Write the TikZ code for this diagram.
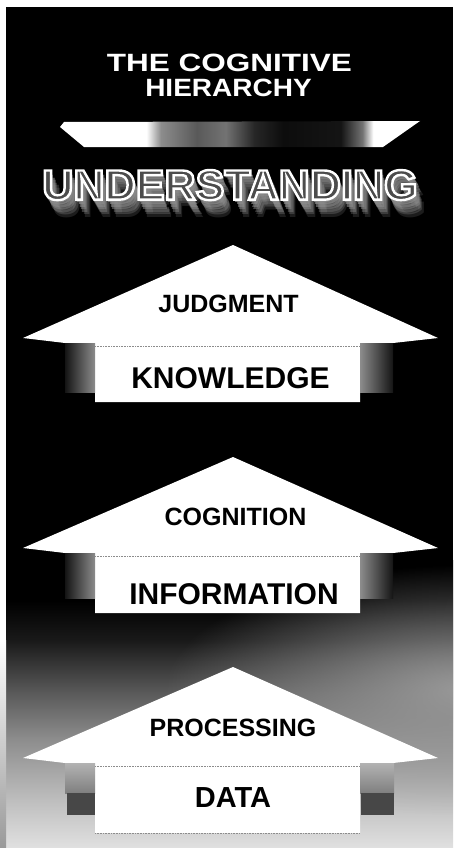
\documentclass[tikz,border=0pt]{standalone}
\usepackage{fontspec}
\setmainfont{Liberation Sans}
\usepackage{graphicx}
\usetikzlibrary{fadings}
\pgfdeclarehorizontalshading{barshade}{100bp}{color(0bp)=(white); color(25bp)=(white); color(37bp)=(white); color(39bp)=(black!45); color(44bp)=(black!65); color(48bp)=(black!55); color(52bp)=(black!85); color(56bp)=(black!95); color(64bp)=(black!92); color(67bp)=(black!55); color(68.5bp)=(white); color(75bp)=(white); color(100bp)=(white)}
\pgfdeclareverticalshading{bgshade}{100bp}{color(0bp)=(black!12); color(25bp)=(black!12); color(33bp)=(black!25); color(44bp)=(black!45); color(52bp)=(black!65); color(61bp)=(black!90); color(68bp)=(black); color(100bp)=(black)}
\tikzfading[name=softcirc, inner color=transparent!0, outer color=transparent!100]
% outlined text: fill in current colour, stroke in given grey level
\newcommand\outlinetext[3]{\special{pdf:literal direct 2 Tr #2 w #1 G}#3\special{pdf:literal direct 0 Tr}}
\tikzset{
  lbl/.style={inner sep=0pt, text depth=0pt, text height=17.9pt, font=\bfseries\fontsize{25}{25}\selectfont},
  biglbl/.style={inner sep=0pt, text depth=0pt, text height=21.6pt, font=\bfseries\fontsize{30}{30}\selectfont},
  ustyle/.style={inner sep=0pt, text depth=0pt, text height=30.4pt, font=\bfseries\fontsize{42.5}{42.5}\selectfont},
  housefill/.style={fill=white},
  lside/.style={left color=black!92, right color=black!45},
  rside/.style={left color=black!45, right color=black!92},
  boxedge/.style={black!45, densely dotted, line width=0.6pt}
}
\newcommand\housearrow[4]{%
  \fill[housefill] (233,#1) -- (438,#2) -- (393,#2+5) -- (360,#2+5) -- (360,#4) -- (95,#4) -- (95,#2+5) -- (65,#2+5) -- (23,#2) -- cycle;
  \draw[boxedge] (95,#2+8) -- (360,#2+8);
}
\begin{document}
\begin{tikzpicture}[x=1pt,y=-1pt]
\useasboundingbox (0,0) rectangle (453,848);
\fill[white] (0,0) rectangle (453,848);
% dark panel with fading bottom
\fill[black] (6,7) rectangle (453,848);
\shade[shading=bgshade] (6,560) rectangle (453,848);
\begin{scope}
  \clip (6,7) rectangle (453,848);
  \fill[black!40, path fading=softcirc] (465,690) ellipse [x radius=300pt, y radius=125pt];
\end{scope}
\shade[top color=white, bottom color=black!40] (0,640) rectangle (6,848);

% title
\node[lbl, text=white] (t1) at (229.5,63) {\scalebox{1.26}[1]{THE COGNITIVE}};
\node[lbl, text=white] (t2) at (228.5,88) {\scalebox{1.12}[1]{HIERARCHY}};

% bar
\shade[shading=barshade] (64,122) -- (420,121) -- (383,147) -- (84,147) -- (60,127) -- cycle;

% UNDERSTANDING with streaky shadow
\foreach \i in {7,6,...,1}
  \node[ustyle, text=black!45, opacity={0.9-0.1*\i}] (ush\i) at ({230+1.3*\i},{184.5+2.5*\i}) {\scalebox{1.015}[1]{UNDERSTANDING}};
\node[ustyle, text=black!70] (und) at (230,184.5) {\scalebox{1.015}[1]{\outlinetext{1}{2.4}{UNDERSTANDING}}};

% arrow 1
\housearrow{245}{338}{392}{402}
\shade[lside] (65,343) rectangle (95,392);
\shade[rside] (360,343) rectangle (393,392);
\node[lbl] (judg) at (228.5,304) {JUDGMENT};
\node[biglbl] (know) at (230.5,377.5) {KNOWLEDGE};

% arrow 2
\housearrow{457}{548}{598}{613}
\shade[lside] (65,553) rectangle (95,598);
\shade[rside] (360,553) rectangle (393,598);
\node[lbl] (cogn) at (235.5,517) {COGNITION};
\node[biglbl] (info) at (234,594) {INFORMATION};

% arrow 3
\housearrow{667}{758}{815}{833}
\draw[boxedge] (95,833) -- (360,833);
\shade[top color=black!30, bottom color=black!50] (65,763) rectangle (95,793);
\shade[top color=black!30, bottom color=black!50] (360,763) rectangle (394,793);
\fill[black!72] (67,793) rectangle (95,815);
\fill[black!72] (361,793) rectangle (394,815);
\node[lbl] (proc) at (233,728) {PROCESSING};
\node[biglbl, font=\bfseries\fontsize{29}{29}\selectfont, text height=20.8pt] (data) at (233,797) {DATA};
\end{tikzpicture}
\end{document}
